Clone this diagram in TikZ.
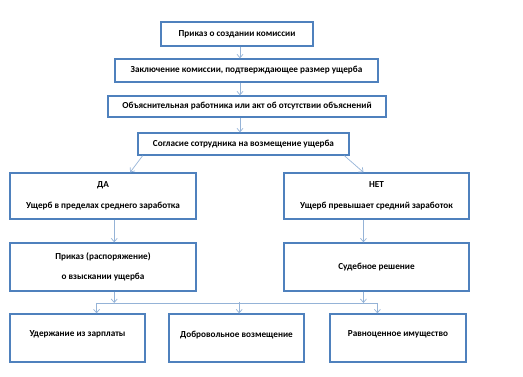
\documentclass[tikz,border=0pt]{standalone}
\usepackage{fontspec}
\setmainfont{Carlito}
\usetikzlibrary{arrows.meta,calc}

\definecolor{boxblue}{HTML}{4F81BD}
\definecolor{arrowblue}{HTML}{95B3D7}

\tikzset{
    stagebox/.style={draw=boxblue, line width=1.3pt, fill=white, align=center,
        font=\bfseries\fontsize{9.2}{20.5}\selectfont, inner sep=2pt},
    flowarrow/.style={draw=arrowblue, line width=0.7pt,
        -{Straight Barb[length=3.5pt,width=6pt]}},
    busline/.style={draw=arrowblue, line width=0.7pt}
}

\begin{document}
\begin{tikzpicture}[x=1pt, y=-1pt]

        % frame of the page: 523 x 377, y runs downward
        \useasboundingbox (0, 0) rectangle (523, 377);

        % top chain
        \node[stagebox, minimum width=152pt, minimum height=24pt] (order) at (237, 34) {Приказ о создании комиссии};
        \node[stagebox, minimum width=263pt, minimum height=23pt] (report) at (246.5, 70.5) {Заключение комиссии, подтверждающее размер ущерба};
        \node[stagebox, minimum width=278pt, minimum height=21pt] (note) at (247, 106.5) {Объяснительная работника или акт об отсутствии объяснений};
        \node[stagebox, minimum width=211pt, minimum height=22pt] (consent) at (243.5, 144) {Согласие сотрудника на возмещение ущерба};

        % two branches
        \node[stagebox, minimum width=186pt, minimum height=46pt] (yes) at (103, 196) {ДА\\Ущерб в пределах среднего заработка};
        \node[stagebox, minimum width=185pt, minimum height=46pt] (no) at (376.5, 196) {НЕТ\\Ущерб превышает средний заработок};
        \node[stagebox, minimum width=186pt, minimum height=48pt] (decree) at (103, 267) {Приказ (распоряжение)\\о взыскании ущерба};
        \node[stagebox, minimum width=185pt, minimum height=48pt] (court) at (376.5, 267) {Судебное решение};

        % ways of recovery
        \node[stagebox, minimum width=135pt, minimum height=48pt, text depth=8pt] (salary) at (77.5, 338) {Удержание из зарплаты};
        \node[stagebox, minimum width=135pt, minimum height=48pt, text depth=8pt] (volunt) at (236.5, 338) {Добровольное возмещение};
        \node[stagebox, minimum width=136pt, minimum height=48pt, text depth=8pt] (property) at (398, 338) {Равноценное имущество};

        \coordinate (axis) at (240, 0);
        \coordinate (bus) at (0, 303);

        \draw[flowarrow] (order.south -| axis) -- (report.north -| axis);
        \draw[flowarrow] (report.south -| axis) -- (note.north -| axis);
        \draw[flowarrow] (note.south -| axis) -- (consent.north -| axis);

        \draw[flowarrow] ($(consent.south west)!0.025!(consent.south east)$) -- ($(yes.north west)!0.645!(yes.north east)$);
        \draw[flowarrow] ($(consent.south west)!0.975!(consent.south east)$) -- ($(no.north west)!0.43!(no.north east)$);

        \draw[flowarrow] ($(yes.south west)!0.56!(yes.south east)$) coordinate (ya) -- (ya |- decree.north);
        \draw[flowarrow] ($(no.south west)!0.43!(no.south east)$) coordinate (na) -- (na |- court.north);

        % joint bus to the three ways
        \draw[flowarrow] (ya |- decree.south) -- (ya |- bus);
        \draw[flowarrow] (na |- court.south) -- (na |- bus);
        \coordinate (sa) at ($(salary.north west)!0.64!(salary.north east)$);
        \coordinate (pa) at ($(property.north west)!0.35!(property.north east)$);
        \draw[busline] (sa |- bus) -- (pa |- bus);
        \draw[flowarrow] (sa |- bus) -- (sa);
        \draw[flowarrow] ($(volunt.north west)!0.52!(volunt.north east)$) coordinate (va) ++(0, -11) -- (va);
        \draw[flowarrow] (pa |- bus) -- (pa);

    \end{tikzpicture}
\end{document}
